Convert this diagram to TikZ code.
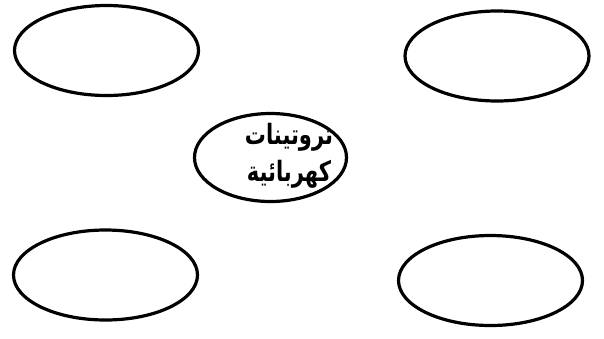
\documentclass[tikz,border=0pt]{standalone}
\usepackage{fontspec}
\newfontfamily\arabicfont[Script=Arabic]{DejaVu Sans}
\TeXXeTstate=1
\usetikzlibrary{shapes.geometric}
\tikzset{
  bubble/.style={draw,ellipse,line width=3.2pt,inner sep=0pt,
    minimum width=184pt,minimum height=90pt},
  core/.style={bubble,minimum width=152pt,minimum height=88pt},
  arlabel/.style={align=center,inner sep=0pt,
    font=\arabicfont\bfseries\fontsize{28}{37}\selectfont}
}
\newcommand{\rtlline}[1]{\scalebox{0.75}[1]{\beginR #1\endR}}

\begin{document}
\begin{tikzpicture}[x=1pt,y=-1pt]
  \useasboundingbox (0,0) rectangle (604,338);
  \node[core] (centre) at (270.5,157.5) {};
  \node[arlabel] (label) at (289,156) {\rtlline{تروتينات}\\\rtlline{كهربائية}};
  \node[bubble] (topleft) at (106.5,50.5) {};
  \node[bubble] (topright) at (497,56) {};
  \node[bubble] (botleft) at (105.5,275) {};
  \node[bubble] (botright) at (490.5,280.5) {};
\end{tikzpicture}
\end{document}
